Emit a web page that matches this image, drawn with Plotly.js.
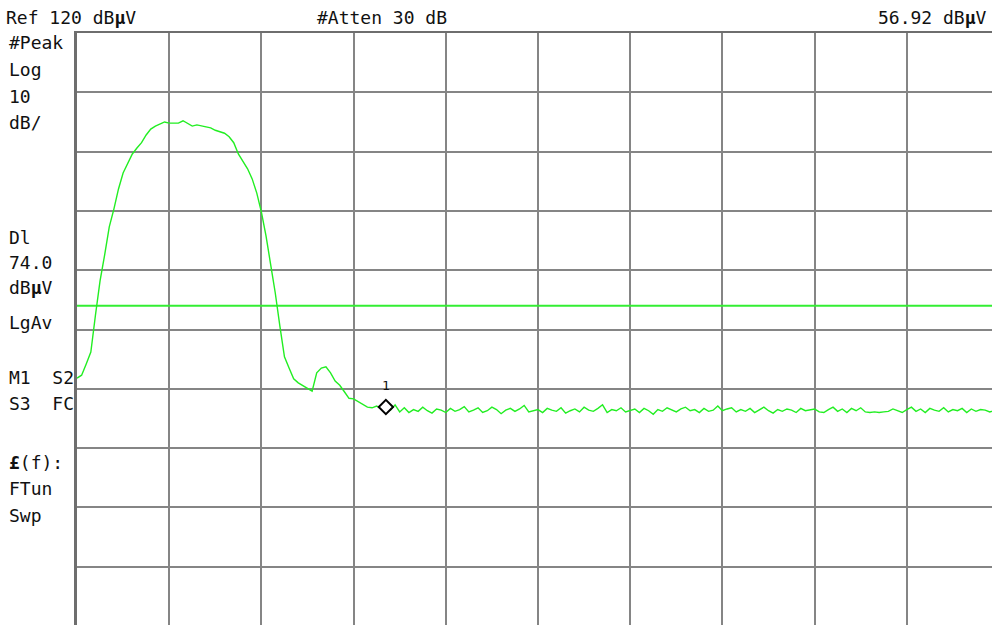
<!DOCTYPE html>
<html>
<head>
<meta charset="utf-8">
<script src="https://cdn.plot.ly/plotly-3.0.1.min.js"></script>
<style>
html,body{margin:0;padding:0;background:#fff;}
#chart{width:992px;height:625px;}
</style>
</head>
<body>
<div id="chart"></div>
<script>
// ---- data ----
const refLevel = 120;          // dBuV, top of screen
const dbPerDiv = 10;
const divisions = 10;
const stepDiv = 0.05;          // trace sample spacing, in graticule divisions
const traceLevels = [
  61.8, 62.3, 64.2, 66.2, 72.4, 78.2, 82.6, 87.3, 90.3, 93.7,
  96.4, 98.1, 99.6, 100.6, 101.5, 102.8, 103.8, 104.3, 104.7, 105.0,
  104.8, 104.8, 104.8, 105.2, 104.7, 104.3, 104.5, 104.3, 104.1, 104.0,
  103.6, 103.3, 103.1, 102.5, 101.5, 99.6, 98.4, 97.1, 95.4, 93.0,
  89.8, 85.8, 81.0, 76.2, 70.6, 65.4, 63.5, 61.7, 61.0, 60.5,
  60.0, 59.6, 62.7, 63.5, 63.7, 62.7, 61.3, 60.6, 59.5, 58.4,
  58.3, 57.8, 57.4, 56.9, 56.8, 57.1, 56.6, 56.9, 56.4, 57.3,
  56.1, 56.8,
  56.0, 56.5, 56.2, 56.9, 56.3, 55.9, 56.6, 56.4, 56.0, 56.7,
  56.2, 56.5, 57.0, 56.1, 56.4, 56.8, 56.0, 56.3, 56.9, 56.5,
  55.8, 56.4, 56.7, 56.2, 56.6, 57.2, 56.1, 56.3, 56.5, 56.0,
  56.7, 56.4, 56.2, 56.8, 55.9, 56.3, 56.6, 56.1, 56.9, 56.4,
  56.2, 56.7, 57.3, 56.0, 56.5, 56.3, 56.8, 56.1, 56.4, 56.6,
  56.0, 56.7, 56.3, 55.7, 56.5, 56.2, 56.8, 56.4, 56.1, 56.6,
  56.9, 56.3, 56.5, 56.0, 56.7, 56.2, 56.4, 57.1, 56.3, 56.6,
  56.8, 56.1, 56.5, 56.2, 56.7, 56.0, 56.4, 56.9, 56.3, 55.9,
  56.5, 56.2, 56.6, 56.4, 56.0, 56.7, 56.3, 56.5, 56.6, 56.1,
  56.0, 56.5, 56.9, 56.2, 56.6, 56.0, 56.7, 56.3, 56.8, 56.1,
  56.0, 56.1, 56.0, 56.1, 56.2, 56.6, 56.3, 56.0, 56.5, 56.9,
  56.2, 56.6, 56.0, 56.7, 56.4, 56.2, 56.8, 56.1, 56.5, 56.3,
  56.7, 56.0, 56.6, 56.2, 56.5, 56.4, 56.1, 56.3, 56.6
];
const displayLine = 74.0;      // dBuV
const markerDiv = 3.35;        // marker 1 position, divisions
const markerLevel = 56.92;     // dBuV
const markerName = "1";
const headerLeft = "Ref 120 dB<b>µ</b>V";
const headerMid = "#Atten 30 dB";
const headerRight = "56.92 dB<b>µ</b>V";
const sideLabels = ["#Peak","Log","10","dB/","Dl","74.0","dB<b>µ</b>V","LgAv","M1  S2","S3  FC","<b>£</b>(f):","FTun","Swp"];

// ---- layout helpers ----
const W = 992, H = 625, L = 77, T = 33;
const pxDiv = 92.2;      // pixels per horizontal division
const pyDiv = 59.3;      // pixels per vertical division
const xMax = (W - L) / pxDiv;
const yMin = refLevel - (H - T) / pyDiv * dbPerDiv;
const px = x => (x - L) / (W - L);
const py = y => (H - y) / (H - T);

const xs = traceLevels.map((_, i) => i * stepDiv);

const traces = [
  { x: [0, divisions], y: [displayLine, displayLine], mode: 'lines',
    line: { color: '#33ee33', width: 2 }, hoverinfo: 'skip' },
  { x: xs, y: traceLevels, mode: 'lines',
    line: { color: '#22ee22', width: 1.4 }, hoverinfo: 'skip' },
  { x: [markerDiv], y: [markerLevel], mode: 'markers',
    marker: { symbol: 'diamond', size: 11, color: '#ffffff', line: { color: '#000000', width: 2 } },
    hoverinfo: 'skip' }
];

const font = { family: 'DejaVu Sans Mono, monospace', size: 18, color: '#111111' };
const ann = [];
ann.push({ text: headerLeft, xref: 'paper', yref: 'paper', x: px(4), y: py(17), xanchor: 'left', yanchor: 'middle', showarrow: false, font: font });
ann.push({ text: headerMid, xref: 'paper', yref: 'paper', x: px(382), y: py(17), xanchor: 'center', yanchor: 'middle', showarrow: false, font: font });
ann.push({ text: headerRight, xref: 'paper', yref: 'paper', x: px(989), y: py(17), xanchor: 'right', yanchor: 'middle', showarrow: false, font: font });
const sideY = [42, 69, 96, 123, 237, 262, 287, 322, 377, 403, 462, 488, 515];
sideLabels.forEach((t, i) => {
  ann.push({ text: t, xref: 'paper', yref: 'paper', x: px(7), y: py(sideY[i]), xanchor: 'left', yanchor: 'middle', showarrow: false, font: font });
});
ann.push({ text: markerName, xref: 'x', yref: 'y', x: markerDiv, y: markerLevel, yshift: 22, xanchor: 'center', yanchor: 'middle', showarrow: false, font: { family: 'DejaVu Sans Mono, monospace', size: 13, color: '#111' } });

const layout = {
  width: W, height: H,
  margin: { l: L, r: 0, t: T, b: 0, pad: 0 },
  paper_bgcolor: '#ffffff', plot_bgcolor: '#ffffff',
  showlegend: false,
  xaxis: { range: [0, xMax], dtick: 1, tick0: 0, showgrid: true, gridcolor: '#858585', gridwidth: 2,
           zeroline: false, showticklabels: false, ticks: '', side: 'top',
           showline: true, linecolor: '#6e6e6e', linewidth: 2, fixedrange: true },
  yaxis: { range: [yMin, refLevel], dtick: dbPerDiv, tick0: refLevel, showgrid: true, gridcolor: '#858585', gridwidth: 2,
           zeroline: false, showticklabels: false, ticks: '',
           showline: true, linecolor: '#6e6e6e', linewidth: 3, fixedrange: true },
  annotations: ann
};

Plotly.newPlot('chart', traces, layout, { staticPlot: true, displayModeBar: false });
</script>
</body>
</html>
